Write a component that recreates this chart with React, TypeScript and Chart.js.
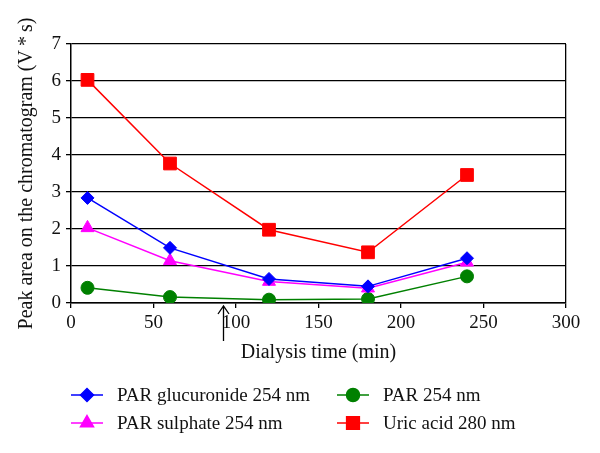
import React, { useEffect, useRef } from 'react';
import { Chart, registerables } from 'chart.js';
import { drawPoint } from 'chart.js/helpers';

Chart.register(...registerables);

// ---- data ----
const timePoints = [10, 60, 120, 180, 240];
const parGlucuronide = [2.84, 1.49, 0.65, 0.45, 1.21];
const parSulphate = [2.03, 1.14, 0.58, 0.4, 1.1];
const par254 = [0.41, 0.16, 0.09, 0.11, 0.72];
const uricAcid = [6.03, 3.77, 1.98, 1.37, 3.46];
const seriesLabels = [
  'PAR glucuronide 254 nm',
  'PAR sulphate 254 nm',
  'PAR 254 nm',
  'Uric acid 280 nm',
];
const xTickValues = [0, 50, 100, 150, 200, 250, 300];
const yTickValues = [0, 1, 2, 3, 4, 5, 6, 7];
const arrowTime = 92;
const xTitle = 'Dialysis time (min)';
const yTitle = 'Peak area on the chromatogram (V\u2009*\u2009s)';

const FONT = "'Liberation Serif', 'Times New Roman', serif";

const styles = [
  { color: '#0000FF', pointStyle: 'rectRot', radius: 6.5 },
  { color: '#FF00FF', pointStyle: 'triangle', radius: 7.5 },
  { color: '#008000', pointStyle: 'circle', radius: 6.5 },
  { color: '#FF0000', pointStyle: 'rect', radius: 9 },
];

const seriesValues = [parGlucuronide, parSulphate, par254, uricAcid];

const extrasPlugin = {
  id: 'extras',
  afterDraw(chart: any) {
    const ctx = chart.ctx;
    const xs = chart.scales.x;
    const area = chart.chartArea;
    ctx.save();
    // arrow
    const ax = Math.round(xs.getPixelForValue(arrowTime)) + 0.5;
    const tip = area.bottom + 3;
    ctx.strokeStyle = '#000';
    ctx.lineWidth = 1.3;
    ctx.beginPath();
    ctx.moveTo(ax, area.bottom + 38);
    ctx.lineTo(ax, tip);
    ctx.moveTo(ax - 5.5, tip + 8);
    ctx.lineTo(ax, tip);
    ctx.lineTo(ax + 5.5, tip + 8);
    ctx.stroke();

    // legend (2 columns x 2 rows, column-major)
    const colX = [71, 337];
    const rowY = [395, 423];
    ctx.font = `19px ${FONT}`;
    ctx.textBaseline = 'middle';
    ctx.textAlign = 'left';
    seriesLabels.forEach((label, i) => {
      const col = Math.floor(i / 2);
      const row = i % 2;
      const x0 = colX[col];
      const y = rowY[row];
      const st = styles[i];
      ctx.strokeStyle = st.color;
      ctx.fillStyle = st.color;
      ctx.lineWidth = 1.5;
      ctx.beginPath();
      ctx.moveTo(x0, y);
      ctx.lineTo(x0 + 32, y);
      ctx.stroke();
      drawPoint(ctx, { pointStyle: st.pointStyle, radius: st.radius, rotation: 0, borderWidth: 1 } as any, x0 + 16, y);
      ctx.fillStyle = '#111';
      ctx.fillText(label, x0 + 46, y + 1);
    });
    ctx.restore();
  },
};

export default function App() {
  const ref = useRef<HTMLCanvasElement | null>(null);
  useEffect(() => {
    document.body.style.margin = '0';
    const canvas = ref.current!;
    const chart = new Chart(canvas, {
      type: 'line',
      data: {
        datasets: seriesValues.map((vals, i) => ({
          label: seriesLabels[i],
          data: vals.map((v, j) => ({ x: timePoints[j], y: v })),
          borderColor: styles[i].color,
          backgroundColor: styles[i].color,
          pointBackgroundColor: styles[i].color,
          pointBorderColor: styles[i].color,
          pointStyle: styles[i].pointStyle as any,
          pointRadius: styles[i].radius,
          pointBorderWidth: 1,
          borderWidth: 1.5,
          tension: 0,
          fill: false,
        })),
      },
      options: {
        animation: false,
        responsive: false,
        events: [],
        layout: { padding: { left: 0, top: 44, right: 34, bottom: 88 } },
        plugins: { legend: { display: false }, tooltip: { enabled: false } },
        scales: {
          x: {
            type: 'linear',
            min: 0,
            max: 300,
            afterBuildTicks: (s: any) => {
              s.ticks = xTickValues.map((v) => ({ value: v }));
            },
            afterFit: (s: any) => {
              s.height = 62;
            },
            ticks: {
              color: '#111',
              font: { family: FONT, size: 19 },
              padding: 4,
              maxRotation: 0,
            },
            grid: {
              color: (c: any) => (c.tick && c.tick.value === 300 ? '#000' : 'rgba(0,0,0,0)'),
              tickColor: '#000',
              tickLength: 5,
              lineWidth: 1.3,
            },
            border: { color: '#000', width: 1.5 },
            title: {
              display: true,
              text: xTitle,
              color: '#111',
              font: { family: FONT, size: 20 },
              padding: 0,
            },
          },
          y: {
            type: 'linear',
            min: 0,
            max: 7,
            afterBuildTicks: (s: any) => {
              s.ticks = yTickValues.map((v) => ({ value: v }));
            },
            afterFit: (s: any) => {
              s.width = 71;
            },
            ticks: {
              color: '#111',
              font: { family: FONT, size: 19 },
              padding: 5,
            },
            grid: {
              color: '#000',
              tickColor: '#000',
              tickLength: 5,
              lineWidth: 1.3,
            },
            border: { color: '#000', width: 1.5 },
            title: {
              display: true,
              text: yTitle,
              color: '#111',
              font: { family: FONT, size: 20 },
              padding: { top: 15, bottom: 0 },
            },
          },
        },
      },
      plugins: [extrasPlugin],
    });
    return () => chart.destroy();
  }, []);
  return (
    <div style={{ position: 'absolute', left: 0, top: 0, width: 600, height: 453, background: '#fff' }}>
      <canvas ref={ref} width={600} height={453} style={{ width: 600, height: 453, display: 'block' }} />
    </div>
  );
}
